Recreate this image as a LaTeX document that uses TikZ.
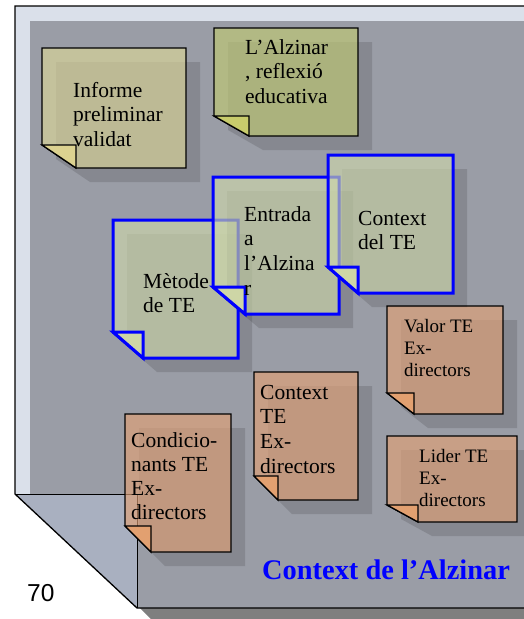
\documentclass[tikz,border=0pt]{standalone}
\usepackage{fontspec}
\setmainfont{Liberation Serif}
\newfontfamily\arialf{Liberation Sans}
\definecolor{frameLight}{HTML}{DAE0EA}
\definecolor{backGrey}{HTML}{9A9DA6}
\definecolor{bevelCol}{HTML}{A9B0C0}
\definecolor{baseShadow}{HTML}{7F7F7F}
\definecolor{khakiFill}{HTML}{DCD698}
\definecolor{khakiFlap}{HTML}{DCD290}
\definecolor{oliveFill}{HTML}{C0C973}
\definecolor{oliveFlap}{HTML}{C8CC6C}
\definecolor{orangeFill}{HTML}{E1A176}
\definecolor{orangeFlap}{HTML}{E2A070}
\definecolor{greenFill}{HTML}{CDD7AB}
\definecolor{greenFlap}{HTML}{CED6A6}
\newcommand\stnote[9]{%
  \fill[black,opacity=0.13] (#1+14,#2+14) -- (#3+14,#2+14) -- (#3+14,#4+14) -- (#5+14,#4+14) -- (#1+14,#6+14) -- cycle;
  \filldraw[fill=#7,fill opacity=0.65,#9] (#1,#2) -- (#3,#2) -- (#3,#4) -- (#5,#4) -- (#1,#6) -- cycle;
  \filldraw[fill=#8,#9] (#1,#6) -- (#5,#6) -- (#5,#4) -- cycle;
}
\begin{document}
\begin{tikzpicture}[x=1pt,y=-1pt,
  blackedge/.style={draw=black,line width=1.3pt,line join=miter},
  blueedge/.style={draw=blue,line width=3pt,line join=miter},
  txt/.style={font=\fontsize{21.5}{24.8}\selectfont,inner sep=0pt,anchor=base west,text=black},
  smalltxt/.style={font=\fontsize{19}{22}\selectfont,inner sep=0pt,anchor=base west,text=black}]
\useasboundingbox (0,0) rectangle (524,619);
\clip (0,0) rectangle (524,619);
% base shadow
\fill[baseShadow] (140,608) -- (530,608) -- (530,619) -- (151,619) -- cycle;
% frame faces
\fill[frameLight] (15,6) -- (530,6) -- (530,21) -- (30,21) -- (30,494) -- (15,494) -- cycle;
\fill[backGrey] (30,21) -- (530,21) -- (530,608) -- (137,608) -- (137,494) -- (30,494) -- cycle;
\fill[bevelCol] (15,494) -- (137,494) -- (137,608) -- cycle;
\draw[black,line width=0.8pt] (15,494) -- (137,494) -- (137,608);
\draw[black,line width=1.3pt,line join=miter] (530,6) -- (15,6) -- (15,494) -- (137,608) -- (530,608);
\node[font=\arialf\fontsize{24.5}{28}\selectfont,inner sep=0pt,anchor=base west] (num) at (27,601) {70};
% khaki / olive notes
\stnote{42}{48}{186}{168}{76}{145}{khakiFill}{khakiFlap}{blackedge}
\node[txt] (tInf) at (73,97) {\vtop{\hbox{Informe}\hbox{preliminar}\hbox{validat}}};
\stnote{214}{28}{358}{136}{249}{116}{oliveFill}{oliveFlap}{blackedge}
\node[txt] (tAlz) at (245,54) {\vtop{\hbox{L’Alzinar}\hbox{, reflexió}\hbox{educativa}}};
% orange notes
\stnote{387}{306}{503}{414}{414}{393}{orangeFill}{orangeFlap}{blackedge}
\node[smalltxt] (tVal) at (404,332) {\vtop{\hbox{Valor TE}\hbox{Ex-}\hbox{directors}}};
\stnote{387}{436}{517}{522}{418}{505}{orangeFill}{orangeFlap}{blackedge}
\node[smalltxt] (tLid) at (419,462) {\vtop{\hbox{Lider TE}\hbox{Ex-}\hbox{directors}}};
\stnote{254}{372}{358}{500}{278}{476}{orangeFill}{orangeFlap}{blackedge}
\node[txt] (tCtx) at (260,399) {\vtop{\hbox{Context}\hbox{TE}\hbox{Ex-}\hbox{directors}}};
\stnote{125}{414}{231}{552}{151}{526}{orangeFill}{orangeFlap}{blackedge}
\node[txt,font=\fontsize{21.5}{24}\selectfont] (tCon) at (131,447) {\vtop{\hbox{Condicio-}\hbox{nants TE}\hbox{Ex-}\hbox{directors}}};
% blue-bordered notes
\stnote{113}{220}{238}{358}{143}{332}{greenFill}{greenFlap}{blueedge}
\node[txt] (tMet) at (143,288) {\vtop{\hbox{Mètode}\hbox{de TE}}};
\stnote{213}{177}{339}{314}{245}{287}{greenFill}{greenFlap}{blueedge}
\node[txt] (tEnt) at (244,221) {\vtop{\hbox{Entrada}\hbox{a}\hbox{l’Alzina}\hbox{r}}};
\stnote{328}{155}{453}{293}{358}{267}{greenFill}{greenFlap}{blueedge}
\node[txt] (tDel) at (358,225) {\vtop{\hbox{Context}\hbox{del TE}}};
% title
\node[font=\bfseries\fontsize{28.4}{32}\selectfont,text=blue,inner sep=0pt,anchor=base west] (title) at (262,579) {Context de l’Alzinar};
\end{tikzpicture}
\end{document}
